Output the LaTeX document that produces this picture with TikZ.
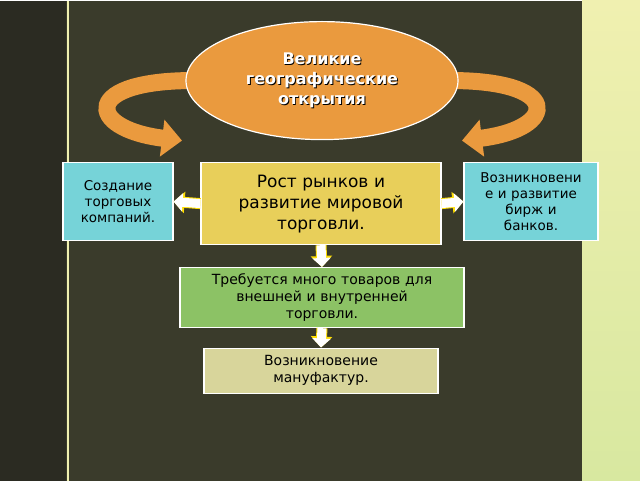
\documentclass[tikz,border=0pt]{standalone}
\usepackage{fontspec}
\setmainfont{DejaVu Sans}
\usetikzlibrary{arrows.meta, positioning, shapes.geometric}
\definecolor{boardbg}{HTML}{3A3B2B}
\definecolor{leftbg}{HTML}{2B2B22}
\definecolor{orangeE}{HTML}{EA9A3E}
\definecolor{cyanbox}{HTML}{76D3D8}
\definecolor{yellowbox}{HTML}{E8CF5A}
\definecolor{greenbox}{HTML}{8CC265}
\definecolor{palebox}{HTML}{D8D59B}
\definecolor{rimY}{HTML}{F0F0B0}
\definecolor{rimG}{HTML}{D8E8A0}
\begin{document}
\begin{tikzpicture}[x=1pt,y=-1pt,
box/.style={draw=white, line width=1.2pt, align=center, inner sep=2pt, font=\fontsize{13.5}{16}\selectfont},
blockarrow/.style={line width=9pt, white, -{Triangle[width=18pt,length=9pt]}},
blockrim/.style={line width=11pt, yellow!80!orange, -{Triangle[width=21pt,length=11pt]}},
bandarrow/.style={line width=17pt, orangeE, -{Triangle[width=36pt,length=20pt]}}
]
% Background
    \fill[boardbg] (0,0) rectangle (640,480);
    \fill[leftbg] (0,0) rectangle (66,480);
    \draw[rimY, line width=1.2pt] (68,0) -- (68,480);
    \shade[top color=rimY, bottom color=rimG] (582,0) rectangle (640,480);
    \useasboundingbox (0,0) rectangle (640,480);

% Curved arrows
    \draw[bandarrow] (200,80) .. controls (80,78) and (85,128) .. (182,140);
    \draw[bandarrow] (444,80) .. controls (564,78) and (559,128) .. (462,140);

% Central ellipse
    \node[ellipse, draw=white, line width=1.2pt, fill=orangeE, minimum width=272pt, minimum height=118pt] (discov) at (322,80) {};
    \node[black, align=center, font=\bfseries\fontsize{16}{20}\selectfont] at ([xshift=0.9pt,yshift=-0.9pt]discov.center) {Великие\\географические\\открытия};
    \node[white, align=center, font=\bfseries\fontsize{16}{20}\selectfont] at (discov.center) {Великие\\географические\\открытия};

% Boxes
    \node[box, fill=cyanbox, minimum width=110pt, minimum height=78pt, text width=106pt] (companies) at (118,201) {Создание\\торговых\\компаний.};
    \node[box, fill=yellowbox, minimum width=240pt, minimum height=82pt, text width=234pt, font=\fontsize{17}{21}\selectfont] (markets) at (321,203) {Рост рынков и\\развитие мировой\\торговли.};
    \node[box, fill=cyanbox, minimum width=133pt, minimum height=78pt, text width=130pt] (exchanges) at (531,201) {Возникновени\\е и развитие\\бирж и\\банков.};
    \node[box, fill=greenbox, minimum width=284pt, minimum height=60pt, text width=280pt, font=\fontsize{14}{17}\selectfont] (goods) at (322,297) {Требуется много товаров для\\внешней и внутренней\\торговли.};
    \node[box, fill=palebox, minimum width=234pt, minimum height=45pt, text width=230pt, font=\fontsize{14}{17}\selectfont] (manuf) at (321,370) {Возникновение\\мануфактур.};

% Block arrows
    \foreach \a/\b in {markets.west/companies.east, markets.east/exchanges.west, markets.south/goods.north, goods.south/manuf.north}{
        \draw[blockrim] (\a) -- (\b);
        \draw[blockarrow] (\a) -- (\b);
    }
\end{tikzpicture}
\end{document}
